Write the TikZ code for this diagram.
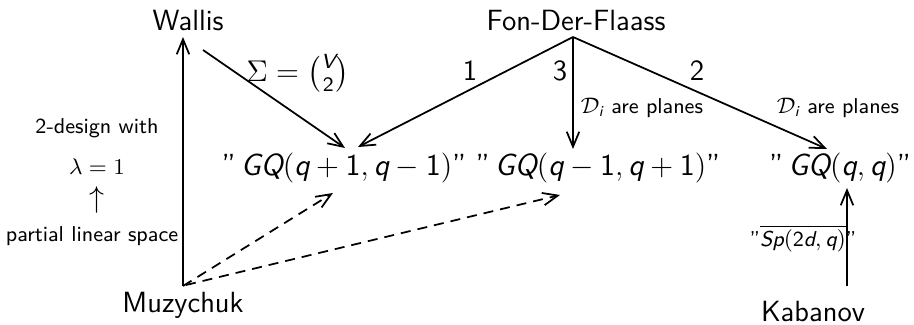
\documentclass[tikz,border=0pt]{standalone}
\usepackage{amsmath}
\usetikzlibrary{arrows.meta}
\newcommand{\sv}[1]{\text{\sffamily\itshape #1}}
\newcommand{\sd}[1]{\text{\sffamily #1}}
\newcommand{\sfSigma}{\text{\fontencoding{OT1}\fontfamily{lmss}\selectfont\char6}}
\begin{document}
\begin{tikzpicture}[x=0.4pt,y=-0.4pt,
  every node/.style={inner sep=1pt, font=\sffamily\fontsize{11.7}{14}\selectfont},
  small/.style={font=\sffamily\fontsize{8.6}{10}\selectfont},
  big/.style={font=\sffamily\fontsize{12.2}{15}\selectfont},
  arr/.style={-{Straight Barb[length=6pt,width=5pt]}, line width=0.7pt},
  darr/.style={arr, dash pattern=on 4pt off 2.8pt}]
\useasboundingbox (0,0) rectangle (914,325);
% main nodes
\node (W) at (188,21) {Wallis};
\node (F) at (576,21) {Fon-Der-Flaass};
\node (M) at (183,305) {Muzychuk};
\node (K) at (813,311) {Kabanov};
\node[big] (G1) at (344,168) {''\,$\sv{GQ}(\sv{q}+\sd{1},\sv{q}-\sd{1})$''};
\node[big] (G2) at (598,168) {''\,$\sv{GQ}(\sv{q}-\sd{1},\sv{q}+\sd{1})$''};
\node[big] (G3) at (840,168) {''\,$\sv{GQ}(\sv{q},\sv{q})$''};
% connector ends
\coordinate (Wa) at (203,50);
\coordinate (Fa) at (573,37);
\coordinate (G1a) at (345,148);
\coordinate (G1b) at (358,147);
\coordinate (G1c) at (333,193);
\coordinate (G2a) at (573,149);
\coordinate (G2c) at (560,195);
\coordinate (G3a) at (827,149);
\coordinate (G3b) at (847,188);
\coordinate (Ka) at (847,286);
\coordinate (Ma) at (183,286);
\coordinate (Mb) at (186,285);
\coordinate (Wb) at (183,37);
% arrows
\draw[arr] (Wa) -- (G1a);
\draw[arr] (Fa) -- (G1b);
\draw[arr] (Fa) -- (G2a);
\draw[arr] (Fa) -- (G3a);
\draw[arr] (Ma) -- (Wb);
\draw[darr] (Ma) -- (G1c);
\draw[darr] (Mb) -- (G2c);
\draw[arr] (Ka) -- (G3b);
% labels
\node (l0) at (298,73) {$\sfSigma=\binom{\sv{V}}{\sd{2}}$};
\node (l1) at (470,71) {1};
\node (l3) at (560,71) {3};
\node (l2) at (697,71) {2};
\node[small] (d1) at (642,108) {$\mathcal{D}_{\sv{i}}$ are planes};
\node[small] (d2) at (838,108) {$\mathcal{D}_{\sv{i}}$ are planes};
\node[small] (sp) at (803,239) {''$\overline{\sv{Sp}(\sd{2}\sv{d},\sv{q})}$''};
\node[small] (t1) at (97,128) {2-design with};
\node[small] (t2) at (97,167) {$\lambda=1$};
\node (t3) at (97,200) {$\uparrow$};
\node[small] (t4) at (92,236) {partial linear space};
\end{tikzpicture}
\end{document}
